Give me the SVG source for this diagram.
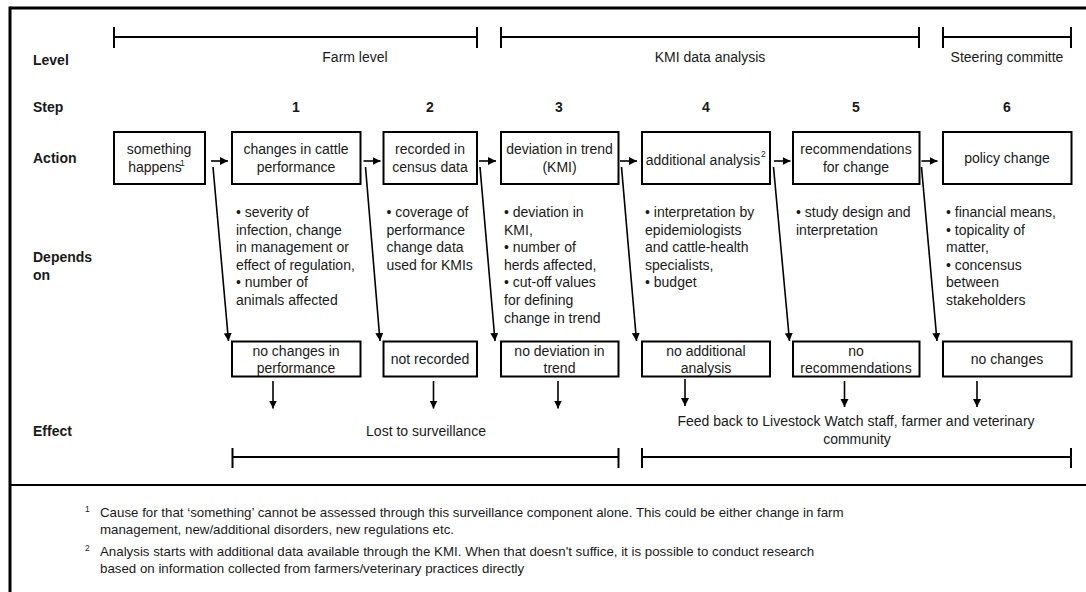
<svg xmlns="http://www.w3.org/2000/svg" width="1086" height="592" viewBox="0 0 1086 592">
  <style>
    text { font-family: "Liberation Sans", Arial, sans-serif; font-size: 14px; fill: #1a1a1a; }
    .b { font-weight: bold; }
    .m { text-anchor: middle; }
    .sup { font-size: 8.5px; }
    .fn { font-size: 13.3px; }
    .box { fill: #fff; stroke: #000; stroke-width: 2; }
    .frame { stroke: #000; fill: none; }
    .br { stroke: #000; stroke-width: 2; fill: none; }
    .arr { stroke: #000; stroke-width: 1.6; fill: none; marker-end: url(#ah); }
  </style>
  <defs>
    <marker id="ah" markerUnits="userSpaceOnUse" markerWidth="9" markerHeight="9" refX="8" refY="4" orient="auto">
      <path d="M0,0 L8,4 L0,8 z" fill="#000"/>
    </marker>
  </defs>

  <rect width="1086" height="592" fill="#fff"/>

  <!-- frame and separator -->
  <g id="frame">
    <line class="frame" x1="10" y1="8" x2="1086" y2="8" stroke-width="3"/>
    <line class="frame" x1="10" y1="6.5" x2="10" y2="592" stroke-width="3"/>
    <line class="frame" x1="10" y1="485" x2="1086" y2="485" stroke-width="2"/>
  </g>

  <!-- row labels -->
  <g id="row-labels">
    <text class="b" x="33" y="65">Level</text>
    <text class="b" x="33" y="112">Step</text>
    <text class="b" x="33" y="163">Action</text>
    <text class="b" x="33" y="262">Depends</text>
    <text class="b" x="33" y="280">on</text>
    <text class="b" x="33" y="436">Effect</text>
  </g>

  <!-- level brackets -->
  <g id="level-farm">
    <path class="br" d="M114,37 H477 M114,27 V48 M477,27 V48"/>
    <text class="m" x="355" y="62">Farm level</text>
  </g>
  <g id="level-kmi">
    <path class="br" d="M501,37 H919 M501,27 V48 M919,27 V48"/>
    <text class="m" x="710" y="62">KMI data analysis</text>
  </g>
  <g id="level-steering">
    <path class="br" d="M943,37 H1071 M943,27 V48 M1071,27 V48"/>
    <text class="m" x="1007" y="62">Steering committe</text>
  </g>

  <!-- step numbers -->
  <g id="steps">
    <text class="b m" x="296" y="112">1</text>
    <text class="b m" x="430" y="112">2</text>
    <text class="b m" x="559" y="112">3</text>
    <text class="b m" x="706" y="112">4</text>
    <text class="b m" x="856" y="112">5</text>
    <text class="b m" x="1007" y="112">6</text>
  </g>

  <!-- action boxes -->
  <g id="action-0">
    <rect class="box" x="114" y="132" width="91" height="52"/>
    <text class="m" x="159" y="154">something</text>
    <text class="m" x="155" y="171.5">happens</text>
    <text class="sup" x="180" y="166">1</text>
  </g>
  <g id="action-1">
    <rect class="box" x="232" y="132" width="128.5" height="52"/>
    <text class="m" x="296" y="154">changes in cattle</text>
    <text class="m" x="296" y="171.5">performance</text>
  </g>
  <g id="action-2">
    <rect class="box" x="383.5" y="132" width="93.5" height="52"/>
    <text class="m" x="430" y="154">recorded in</text>
    <text class="m" x="430" y="171.5">census data</text>
  </g>
  <g id="action-3">
    <rect class="box" x="501" y="132" width="117.5" height="52"/>
    <text class="m" x="559.5" y="154">deviation in trend</text>
    <text class="m" x="559.5" y="171.5">(KMI)</text>
  </g>
  <g id="action-4">
    <rect class="box" x="642" y="132" width="128" height="52"/>
    <text class="m" x="703" y="165">additional analysis</text>
    <text class="sup" x="761" y="157">2</text>
  </g>
  <g id="action-5">
    <rect class="box" x="793" y="132" width="126.5" height="52"/>
    <text class="m" x="856" y="154">recommendations</text>
    <text class="m" x="856" y="171.5">for change</text>
  </g>
  <g id="action-6">
    <rect class="box" x="943" y="132" width="128.5" height="52"/>
    <text class="m" x="1007" y="163">policy change</text>
  </g>

  <!-- depends-on columns -->
  <g id="depends-1">
    <text x="236" y="217">• severity of</text>
    <text x="236" y="234.6">infection, change</text>
    <text x="236" y="252.2">in management or</text>
    <text x="236" y="269.8">effect of regulation,</text>
    <text x="236" y="287.4">• number of</text>
    <text x="236" y="305">animals affected</text>
  </g>
  <g id="depends-2">
    <text x="386.5" y="217">• coverage of</text>
    <text x="386.5" y="234.6">performance</text>
    <text x="386.5" y="252.2">change data</text>
    <text x="386.5" y="269.8">used for KMIs</text>
  </g>
  <g id="depends-3">
    <text x="504" y="217">• deviation in</text>
    <text x="504" y="234.6">KMI,</text>
    <text x="504" y="252.2">• number of</text>
    <text x="504" y="269.8">herds affected,</text>
    <text x="504" y="287.4">• cut-off values</text>
    <text x="504" y="305">for defining</text>
    <text x="504" y="322.6">change in trend</text>
  </g>
  <g id="depends-4">
    <text x="645" y="217">• interpretation by</text>
    <text x="645" y="234.6">epidemiologists</text>
    <text x="645" y="252.2">and cattle-health</text>
    <text x="645" y="269.8">specialists,</text>
    <text x="645" y="287.4">• budget</text>
  </g>
  <g id="depends-5">
    <text x="796" y="217">• study design and</text>
    <text x="796" y="234.6">interpretation</text>
  </g>
  <g id="depends-6">
    <text x="946" y="217">• financial means,</text>
    <text x="946" y="234.6">• topicality of</text>
    <text x="946" y="252.2">matter,</text>
    <text x="946" y="269.8">• concensus</text>
    <text x="946" y="287.4">between</text>
    <text x="946" y="305">stakeholders</text>
  </g>

  <!-- outcome boxes -->
  <g id="outcome-1">
    <rect class="box" x="232" y="341.5" width="128.5" height="35"/>
    <text class="m" x="296" y="355.5">no changes in</text>
    <text class="m" x="296" y="373">performance</text>
  </g>
  <g id="outcome-2">
    <rect class="box" x="383.5" y="341.5" width="93.5" height="35"/>
    <text class="m" x="430" y="364">not recorded</text>
  </g>
  <g id="outcome-3">
    <rect class="box" x="501" y="341.5" width="117.5" height="35"/>
    <text class="m" x="559.5" y="355.5">no deviation in</text>
    <text class="m" x="559.5" y="373">trend</text>
  </g>
  <g id="outcome-4">
    <rect class="box" x="642" y="341.5" width="128" height="35"/>
    <text class="m" x="706" y="355.5">no additional</text>
    <text class="m" x="706" y="373">analysis</text>
  </g>
  <g id="outcome-5">
    <rect class="box" x="793" y="341.5" width="126.5" height="35"/>
    <text class="m" x="856" y="355.5">no</text>
    <text class="m" x="856" y="373">recommendations</text>
  </g>
  <g id="outcome-6">
    <rect class="box" x="943" y="341.5" width="128.5" height="35"/>
    <text class="m" x="1007" y="364">no changes</text>
  </g>

  <!-- effect labels and brackets -->
  <g id="effect-lost">
    <text class="m" x="426" y="435.5">Lost to surveillance</text>
    <path class="br" d="M232.5,457 H618.5 M232.5,448 V468 M618.5,448 V468"/>
  </g>
  <g id="effect-feedback">
    <text class="m" x="856" y="426">Feed back to Livestock Watch staff, farmer and veterinary</text>
    <text class="m" x="857" y="444">community</text>
    <path class="br" d="M642,457 H1071 M642,448 V468 M1071,448 V468"/>
  </g>

  <!-- connectors -->
  <g id="connectors">
    <line class="arr" x1="211" y1="161" x2="228" y2="161"/>
    <line class="arr" x1="363.5" y1="161" x2="380.5" y2="161"/>
    <line class="arr" x1="479" y1="161" x2="496" y2="161"/>
    <line class="arr" x1="620" y1="161" x2="637" y2="161"/>
    <line class="arr" x1="774" y1="161" x2="790.5" y2="161"/>
    <line class="arr" x1="921.5" y1="161" x2="937.5" y2="161"/>

    <line class="arr" x1="213" y1="167" x2="228.5" y2="341"/>
    <line class="arr" x1="365.5" y1="167" x2="380" y2="341"/>
    <line class="arr" x1="480" y1="167" x2="495" y2="341"/>
    <line class="arr" x1="621.5" y1="167" x2="636.5" y2="341"/>
    <line class="arr" x1="773.5" y1="167" x2="789.5" y2="341"/>
    <line class="arr" x1="921.5" y1="167" x2="937" y2="341"/>

    <line class="arr" x1="273" y1="381" x2="273" y2="408.5"/>
    <line class="arr" x1="433.5" y1="381" x2="433.5" y2="408.5"/>
    <line class="arr" x1="558" y1="381" x2="558" y2="408.5"/>
    <line class="arr" x1="685" y1="379" x2="685" y2="406"/>
    <line class="arr" x1="844.5" y1="381" x2="844.5" y2="407"/>
    <line class="arr" x1="977" y1="381" x2="977" y2="407"/>
  </g>

  <!-- footnotes -->
  <g id="footnotes">
    <text class="sup" x="85" y="512">1</text>
    <text class="fn" x="100" y="517">Cause for that ‘something’ cannot be assessed through this surveillance component alone. This could be either change in farm</text>
    <text class="fn" x="100" y="534">management, new/additional disorders, new regulations etc.</text>
    <text class="sup" x="85" y="551">2</text>
    <text class="fn" x="100" y="556">Analysis starts with additional data available through the KMI. When that doesn't suffice, it is possible to conduct research</text>
    <text class="fn" x="100" y="572.5">based on information collected from farmers/veterinary practices directly</text>
  </g>
</svg>
